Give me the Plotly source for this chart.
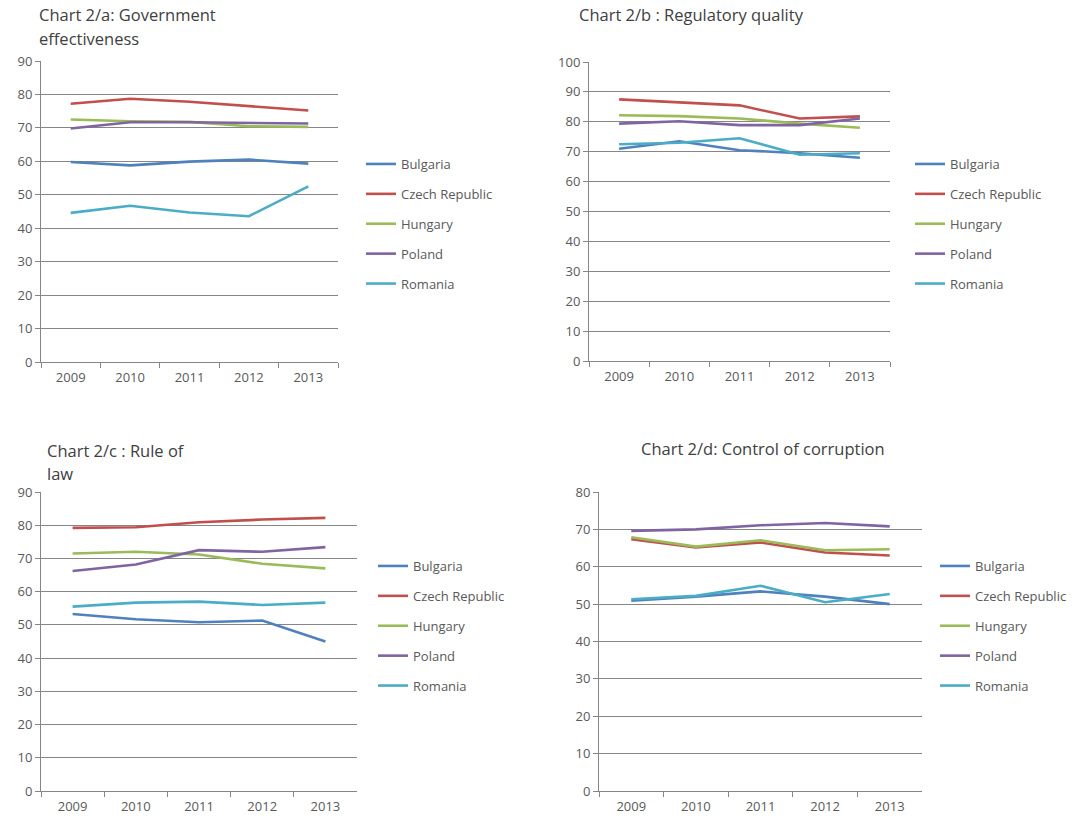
import plotly.graph_objects as go

W, H = 1087, 826

years = ["2009", "2010", "2011", "2012", "2013"]
countries = ["Bulgaria", "Czech Republic", "Hungary", "Poland", "Romania"]
colors = ["#4F81BD", "#C0504D", "#9BBB59", "#8064A2", "#4BACC6"]

# Chart 2/a: Government effectiveness
gov_bulgaria = [59.8, 58.8, 59.9, 60.5, 59.3]
gov_czech = [77.2, 78.7, 77.8, 76.4, 75.2]
gov_hungary = [72.5, 72.0, 71.8, 70.5, 70.3]
gov_poland = [69.8, 71.7, 71.7, 71.6, 71.3]
gov_romania = [44.6, 46.7, 44.7, 43.6, 52.5]

# Chart 2/b: Regulatory quality
reg_bulgaria = [71.0, 73.5, 70.5, 69.5, 68.0]
reg_czech = [87.5, 86.4, 85.5, 81.1, 81.8]
reg_hungary = [82.2, 81.9, 81.1, 79.4, 78.0]
reg_poland = [79.4, 80.2, 78.9, 78.9, 81.1]
reg_romania = [72.5, 73.0, 74.5, 69.0, 69.5]

# Chart 2/c: Rule of law
law_bulgaria = [53.3, 51.7, 50.8, 51.3, 45.0]
law_czech = [79.2, 79.4, 80.9, 81.7, 82.2]
law_hungary = [71.5, 72.0, 71.2, 68.4, 67.0]
law_poland = [66.2, 68.2, 72.5, 72.0, 73.4]
law_romania = [55.5, 56.7, 57.0, 56.0, 56.7]

# Chart 2/d: Control of corruption
cor_bulgaria = [50.9, 52.0, 53.4, 52.0, 50.0]
cor_czech = [67.4, 65.2, 66.5, 63.8, 63.0]
cor_hungary = [67.9, 65.4, 67.1, 64.4, 64.7]
cor_poland = [69.6, 70.0, 71.1, 71.7, 70.8]
cor_romania = [51.3, 52.2, 54.9, 50.5, 52.7]

y_max = [90, 100, 90, 80]

charts = [
    [gov_bulgaria, gov_czech, gov_hungary, gov_poland, gov_romania],
    [reg_bulgaria, reg_czech, reg_hungary, reg_poland, reg_romania],
    [law_bulgaria, law_czech, law_hungary, law_poland, law_romania],
    [cor_bulgaria, cor_czech, cor_hungary, cor_poland, cor_romania],
]

# plot areas in pixels: (left, right, top, bottom)
areas = [
    (41, 338, 61, 362),
    (589, 890, 62, 361),
    (41, 357, 492, 791),
    (599, 922, 492, 791),
]
# legend text start (x) and first item center (y)
legend_pos = [(401, 163), (950, 163), (413, 565), (975, 565)]

titles = [
    (["Chart 2/a: Government", "effectiveness"], 37, 15),
    (["Chart 2/b : Regulatory quality"], 577, 15),
    (["Chart 2/c : Rule of", "law"], 45, 450),
    (["Chart 2/d: Control of corruption"], 639, 448),
]

FONT = "Open Sans"
AX = "#868686"
TXT = "#595959"
TICK_SIZE = 13
LEG_SIZE = 13

fig = go.Figure()
layout = dict(
    width=W, height=H,
    margin=dict(l=0, r=0, t=0, b=0, autoexpand=False),
    paper_bgcolor="white", plot_bgcolor="white",
    font=dict(family=FONT, size=LEG_SIZE, color=TXT),
    annotations=[],
)

for i, series in enumerate(charts):
    n = "" if i == 0 else str(i + 1)
    leg = "legend" if i == 0 else f"legend{i + 1}"
    for c, name in enumerate(countries):
        fig.add_trace(go.Scatter(
            x=years, y=series[c], name=name, mode="lines",
            line=dict(color=colors[c], width=2.6),
            xaxis="x" + n, yaxis="y" + n,
            legend=leg, legendgroup=f"{name}_{i}",
            hoverinfo="x+y+name",
        ))
    l, r, t, b = areas[i]
    layout["xaxis" + n] = dict(
        domain=[l / W, r / W], anchor="y" + n, type="category",
        range=[-0.5, len(years) - 0.5], automargin=False,
        showline=True, linecolor=AX, linewidth=1,
        ticks="outside", tickson="boundaries", ticklen=5, tickcolor=AX,
        ticklabelstandoff=3,
        showgrid=False, tickfont=dict(size=TICK_SIZE, color=TXT), fixedrange=True,
    )
    layout["yaxis" + n] = dict(
        domain=[1 - b / H, 1 - t / H], anchor="x" + n, automargin=False,
        range=[0, y_max[i]], dtick=10, tick0=0,
        showline=True, linecolor=AX, linewidth=1,
        ticks="outside", ticklen=5, tickcolor=AX,
        showgrid=True, gridcolor=AX, gridwidth=1, zeroline=False,
        tickfont=dict(size=TICK_SIZE, color=TXT), fixedrange=True,
    )
    lx, ly = legend_pos[i]
    layout[leg] = dict(
        x=(lx - 40) / W, y=1 - (ly - 14) / H, xanchor="left", yanchor="top",
        font=dict(size=LEG_SIZE, color=TXT, family=FONT), tracegroupgap=10,
        bgcolor="rgba(0,0,0,0)", itemwidth=30,
    )
    lines, tx, ty = titles[i]
    for k, line in enumerate(lines):
        layout["annotations"].append(dict(
            text=line, x=tx / W, y=1 - (ty + 23 * k) / H,
            xref="paper", yref="paper", xanchor="left", yanchor="middle",
            showarrow=False, font=dict(size=16.5, color="#404040", family=FONT),
        ))

fig.update_layout(**layout)
fig.write_html("out.html")
